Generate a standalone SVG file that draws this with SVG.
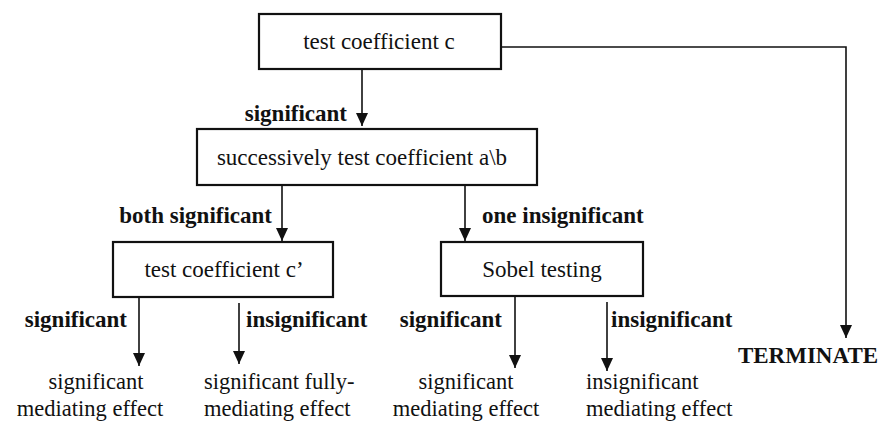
<svg xmlns="http://www.w3.org/2000/svg" width="879" height="421" viewBox="0 0 879 421">
  <style>
    text { font-family: 'Liberation Serif', 'Times New Roman', 'DejaVu Serif', serif; fill: #111; }
    .box { fill: #fff; stroke: #111; stroke-width: 2.2; }
    .txt { font-size: 23px; }
    .res { font-size: 22.5px; }
    .lbl { font-size: 23px; font-weight: bold; }
    .edge { fill: none; stroke: #111; stroke-width: 1.6; }
  </style>
  <defs>
    <marker id="head" markerUnits="userSpaceOnUse" markerWidth="14" markerHeight="12" refX="13" refY="6" orient="auto" viewBox="0 0 14 12">
      <path d="M0,0 L13,6 L0,12 Z" fill="#111"/>
    </marker>
  </defs>

  <!-- connectors -->
  <g id="connectors">
    <line class="edge" x1="362" y1="69" x2="362" y2="126" marker-end="url(#head)"/>
    <path class="edge" d="M501,47 H846 V338" marker-end="url(#head)"/>
    <line class="edge" x1="282" y1="185" x2="282" y2="241" marker-end="url(#head)"/>
    <line class="edge" x1="465" y1="185" x2="465" y2="241" marker-end="url(#head)"/>
    <line class="edge" x1="139" y1="297" x2="139" y2="366" marker-end="url(#head)"/>
    <line class="edge" x1="239" y1="303" x2="239" y2="364" marker-end="url(#head)"/>
    <line class="edge" x1="515" y1="296" x2="515" y2="368" marker-end="url(#head)"/>
    <line class="edge" x1="607" y1="302" x2="607" y2="371" marker-end="url(#head)"/>

    <text class="lbl" x="347" y="121" text-anchor="end">significant</text>
    <text class="lbl" x="272" y="223" text-anchor="end">both significant</text>
    <text class="lbl" x="482" y="223">one insignificant</text>
    <text class="lbl" x="127" y="327" text-anchor="end">significant</text>
    <text class="lbl" x="246" y="327">insignificant</text>
    <text class="lbl" x="502" y="327" text-anchor="end">significant</text>
    <text class="lbl" x="611" y="327">insignificant</text>
  </g>

  <!-- decision boxes -->
  <g id="test-c">
    <rect class="box" x="259" y="14" width="242" height="55"/>
    <text class="txt" x="379" y="49" text-anchor="middle">test coefficient c</text>
  </g>
  <g id="test-ab">
    <rect class="box" x="197" y="129" width="340" height="56"/>
    <text class="txt" x="362" y="165" text-anchor="middle">successively test coefficient a\b</text>
  </g>
  <g id="test-c-prime">
    <rect class="box" x="113" y="242" width="220" height="55"/>
    <text class="txt" x="224" y="277" text-anchor="middle">test coefficient c’</text>
  </g>
  <g id="sobel">
    <rect class="box" x="441" y="242" width="202" height="54"/>
    <text class="txt" x="542" y="277" text-anchor="middle">Sobel testing</text>
  </g>

  <!-- outcomes -->
  <g id="outcome-partial">
    <text class="res" x="96" y="389" text-anchor="middle">significant</text>
    <text class="res" x="90" y="416" text-anchor="middle">mediating effect</text>
  </g>
  <g id="outcome-full">
    <text class="res" x="204" y="389">significant fully-</text>
    <text class="res" x="204" y="416">mediating effect</text>
  </g>
  <g id="outcome-sobel-sig">
    <text class="res" x="466" y="389" text-anchor="middle">significant</text>
    <text class="res" x="466" y="416" text-anchor="middle">mediating effect</text>
  </g>
  <g id="outcome-sobel-insig">
    <text class="res" x="586" y="389">insignificant</text>
    <text class="res" x="586" y="416">mediating effect</text>
  </g>
  <g id="terminate">
    <text class="lbl" x="808" y="363" font-size="21" text-anchor="middle">TERMINATE</text>
  </g>
</svg>
